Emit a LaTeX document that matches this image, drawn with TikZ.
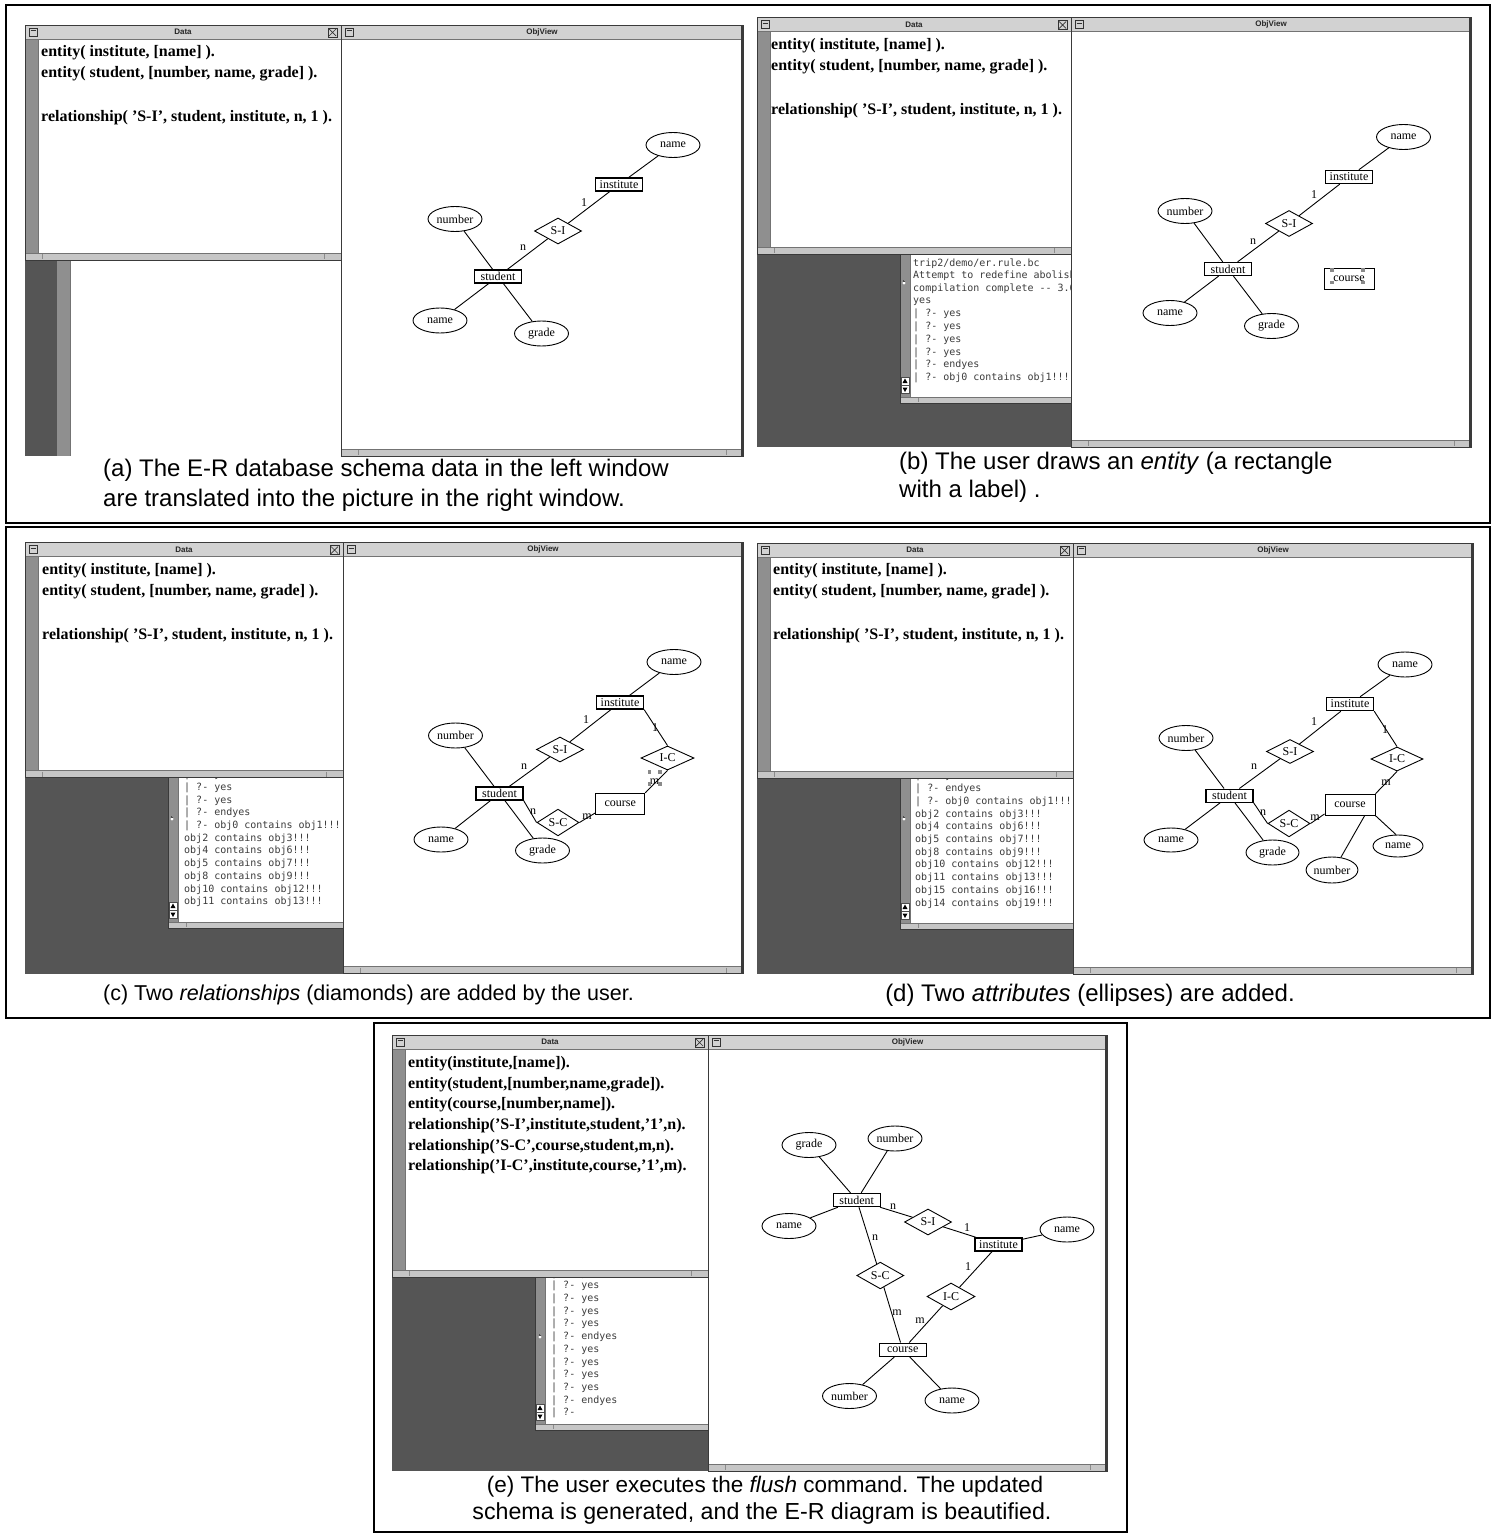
\documentclass[tikz,border=0pt]{standalone}
\usepackage{fontspec}
\setmainfont{Liberation Serif}
\newfontfamily\capfamily{Liberation Sans}
\newfontfamily\monofamily{DejaVu Sans Mono}
\usetikzlibrary{shapes.geometric}
\definecolor{darkbg}{HTML}{555555}
\definecolor{stripfill}{HTML}{8F8F8F}
\definecolor{barfill}{HTML}{D2D2D2}
\definecolor{scrollfill}{HTML}{C6C6C6}
\definecolor{framecol}{HTML}{3A3A3A}
\definecolor{contextcol}{HTML}{3C3C3C}
\definecolor{handlecol}{HTML}{8A8A8A}
\newcommand\erfnt{\fontsize{12}{14}\selectfont}
\newcommand\datafnt{\bfseries\fontsize{16}{19}\selectfont}
\newcommand\confnt{\monofamily\fontsize{10}{12}\selectfont}
\newcommand\capfnt{\capfamily\fontsize{21}{25}\selectfont}
\newcommand\barfnt{\capfamily\bfseries\fontsize{8}{9}\selectfont}

% title bar of a window: name, x1, x2, top, title
\newcommand\TitleBar[5]{%
  \fill[barfill] (#2,#4) rectangle (#3,#4+14);
  \draw[thinline] (#2,#4+14) -- (#3,#4+14);
  \node[bartext] (#1) at ({(#2+#3)/2},#4+7) {#5};
  \draw[iconline] (#2+4,#4+3) rectangle (#2+12,#4+11);
  \draw[iconline] (#2+5.5,#4+5.5) -- (#2+10.5,#4+5.5);
}
% horizontal scroll bar at the foot of a window: x1, x2, bottom
\newcommand\ScrollBar[3]{%
  \fill[scrollfill] (#1,#3-7) rectangle (#2,#3);
  \draw[thinline] (#1,#3-7) -- (#2,#3-7);
  \draw[notch] (#1+17,#3-6) -- (#1+17,#3-1) (#2-17,#3-6) -- (#2-17,#3-1);
}
% text window: name, x1, x2, top, bottom
\newcommand\DataWin[5]{%
  \fill[white] (#2,#4+14) rectangle (#3,#5-7);
  \fill[stripfill] (#2+1,#4+14) rectangle (#2+13,#5-7);
  \draw[thinline] (#2+13,#4+14) -- (#2+13,#5-7);
  \ScrollBar{#2}{#3}{#5}
  \TitleBar{#1}{#2}{#3}{#4}{Data}
  \draw[iconline] (#3-13,#4+3) rectangle (#3-4,#4+12);
  \draw[iconline] (#3-12,#4+4) -- (#3-5,#4+11) (#3-12,#4+11) -- (#3-5,#4+4);
  \draw[winframe] (#2,#4) rectangle (#3,#5);
}
% drawing window: name, x1, x2, top, bottom
\newcommand\ObjWin[5]{%
  \fill[white] (#2,#4+14) rectangle (#3,#5-7);
  \ScrollBar{#2}{#3}{#5}
  \TitleBar{#1}{#2}{#3}{#4}{ObjView}
  \draw[winframe] (#2,#4) rectangle (#3,#5);
  \draw[line width=1.5pt, framecol] (#3-1,#4) -- (#3-1,#5);
}
% console window: x1, x2, top, bottom
\newcommand\ConWin[4]{%
  \fill[white] (#1,#3) rectangle (#2,#4-6);
  \fill[stripfill] (#1,#3) rectangle (#1+10,#4-6);
  \draw[thinline] (#1+10,#3) -- (#1+10,#4-6);
  \fill[scrollfill] (#1,#4-6) rectangle (#2,#4);
  \draw[thinline] (#1,#4-6) -- (#2,#4-6);
  \draw[notch] (#1+18,#4-5) -- (#1+18,#4-1);
  \draw[btn] (#1+1,#4-26) rectangle (#1+9,#4-18);
  \draw[btn] (#1+1,#4-17.5) rectangle (#1+9,#4-9.5);
  \fill (#1+5,#4-24.5) -- (#1+2.5,#4-20) -- (#1+7.5,#4-20) -- cycle;
  \fill (#1+5,#4-11) -- (#1+2.5,#4-15.5) -- (#1+7.5,#4-15.5) -- cycle;
  \draw[winframe] (#1,#3) rectangle (#2,#4);
}
% small pointer mark in a console strip: x, y
\newcommand\PtrMark[2]{%
  \fill[white] (#1,#2) circle (1.6);
  \draw[line width=0.7pt, black!70] (#1+1.2,#2-1.2) arc (45:225:1.6);
}

\begin{document}
\begin{tikzpicture}[x=1pt,y=-1pt,
  thinline/.style={line width=0.6pt, black!55},
  notch/.style={line width=0.6pt, black!45},
  iconline/.style={line width=0.7pt, black!80},
  winframe/.style={draw=framecol, line width=0.8pt},
  btn/.style={fill=white, draw=black!70, line width=0.5pt},
  bartext/.style={inner sep=0pt, font=\barfnt, text=black!85},
  attr/.style={draw, ellipse, line width=0.9pt, minimum width=54pt, minimum height=25pt, inner sep=0pt, font=\erfnt},
  ent/.style={draw, rectangle, line width=1.4pt, minimum width=47pt, minimum height=13pt, inner sep=0pt, font=\erfnt},
  entbig/.style={draw, rectangle, line width=1pt, minimum width=49pt, minimum height=21pt, inner sep=0pt, font=\erfnt},
  rel/.style={draw, diamond, line width=0.9pt, minimum width=47pt, minimum height=26pt, inner sep=0pt, font=\erfnt},
  card/.style={inner sep=0pt, font=\erfnt},
  link/.style={line width=0.9pt},
  datatext/.style={anchor=west, inner sep=0pt, font=\datafnt},
  context/.style={anchor=west, inner sep=0pt, font=\confnt, text=contextcol},
  captext/.style={inner sep=0pt, font=\capfnt},
  handle/.style={fill=handlecol, minimum size=3.5pt, inner sep=0pt},
  outer/.style={draw=black, line width=2pt}
]
\useasboundingbox (0,0) rectangle (1497,1536);
\fill[white] (0,0) rectangle (1497,1536);

% ---------------- frames
\draw[outer] (6,5) rectangle (1490,523);
\draw[outer] (6,527) rectangle (1490,1018);
\draw[outer] (374,1023) rectangle (1127,1532);

% ---------------- panel (a)
\fill[darkbg] (25,25) rectangle (743,456);
\fill[white] (70,260) rectangle (341,456);
\fill[stripfill] (57,260) rectangle (70,456);
\draw[thinline] (70,260) -- (70,456);
\DataWin{a-data}{25}{341}{25}{260}
\ObjWin{a-view}{341}{743}{25}{456}
\node[datatext] (a-l1) at (41,53) {entity( institute, [name] ).};
\node[datatext] (a-l2) at (41,74) {entity( student, [number, name, grade] ).};
\node[datatext] (a-l3) at (41,118) {relationship( ’S-I’, student, institute, n, 1 ).};

\node[attr] (a-iname) at (673,145) {name};
\node[ent] (a-inst) at (619,184.5) {institute};
\node[rel] (a-si) at (558,231) {S-I};
\node[attr] (a-snum) at (455,219) {number};
\node[ent] (a-stu) at (498,276.5) {student};
\node[attr] (a-sname) at (440,320.5) {name};
\node[attr] (a-sgrade) at (541.5,333.5) {grade};
\node[card] (a-k1) at (584,203) {1};
\node[card] (a-k2) at (523,248) {n};
\draw[link] (a-inst) -- (a-iname);
\draw[link] (a-si) -- (a-inst);
\draw[link] (a-stu) -- (a-si);
\draw[link] (a-stu) -- (a-snum);
\draw[link] (a-stu) -- (a-sname);
\draw[link] (a-stu) -- (a-sgrade);

\node[captext, anchor=west, font=\capfamily\fontsize{24}{28}\selectfont] (a-cap1) at (103,470) {(a) The E-R database schema data in the left window};
\node[captext, anchor=west, font=\capfamily\fontsize{24}{28}\selectfont] (a-cap2) at (103,500) {are translated into the picture in the right window.};

% ---------------- panel (b)
\fill[darkbg] (757,17.5) rectangle (1471,447);
\DataWin{b-data}{757}{1071}{17.5}{254}
\ConWin{900}{1071}{254}{403}
\PtrMark{904}{283}
\begin{scope}
  \clip (911,254) rectangle (1071,397);
  \foreach \cl [count=\k from 0] in {trip2/demo/er.rule.bc, Attempt to redefine abolish, compilation complete -{}- 3.6, yes, | ?- yes, | ?- yes, | ?- yes, | ?- yes, | ?- endyes, | ?- obj0 contains obj1!!!}
    \node[context] (b-q\k) at (913,263.5+12.7*\k) {\cl};
\end{scope}
\ObjWin{b-view}{1071}{1471}{17.5}{447}
\node[datatext] (b-l1) at (771,45.5) {entity( institute, [name] ).};
\node[datatext] (b-l2) at (771,66.5) {entity( student, [number, name, grade] ).};
\node[datatext] (b-l3) at (771,110.5) {relationship( ’S-I’, student, institute, n, 1 ).};

\node[attr] (b-iname) at (1403.5,137) {name};
\node[ent] (b-inst) at (1349,177) {institute};
\node[rel] (b-si) at (1289,223.5) {S-I};
\node[attr] (b-snum) at (1185,211) {number};
\node[ent] (b-stu) at (1228,269) {student};
\node[attr] (b-sname) at (1170,313) {name};
\node[attr] (b-sgrade) at (1271.5,326) {grade};
\node[entbig, minimum width=50pt] (b-course) at (1349,278.5) {course};
\node[card] (b-k1) at (1314,195) {1};
\node[card] (b-k2) at (1253,242) {n};
\draw[link] (b-inst) -- (b-iname);
\draw[link] (b-si) -- (b-inst);
\draw[link] (b-stu) -- (b-si);
\draw[link] (b-stu) -- (b-snum);
\draw[link] (b-stu) -- (b-sname);
\draw[link] (b-stu) -- (b-sgrade);
\node[handle] (b-h1) at (1332,270) {};
\node[handle] (b-h2) at (1363,270) {};
\node[handle] (b-h3) at (1332,282.5) {};
\node[handle] (b-h4) at (1363,282.5) {};

\node[captext, anchor=west, font=\capfamily\fontsize{24}{28}\selectfont] (b-cap1) at (899,463) {(b) The user draws an \textit{entity} (a rectangle};
\node[captext, anchor=west, font=\capfamily\fontsize{24}{28}\selectfont] (b-cap2) at (899,491) {with a label) .};

% ---------------- panel (c)
\fill[darkbg] (25,542.5) rectangle (743,973.5);
\DataWin{c-data}{25}{343}{542.5}{777.5}
\ConWin{168}{343}{777.5}{928}
\PtrMark{172}{819}
\begin{scope}
  \clip (179,777.5) rectangle (343,922);
  \foreach \cl [count=\k from 0] in {| ?- yes, | ?- yes, | ?- yes, | ?- endyes, | ?- obj0 contains obj1!!!, obj2 contains obj3!!!, obj4 contains obj6!!!, obj5 contains obj7!!!, obj8 contains obj9!!!, obj10 contains obj12!!!, obj11 contains obj13!!!}
    \node[context] (c-q\k) at (184,775+12.7*\k) {\cl};
\end{scope}
\ObjWin{c-view}{343}{743}{542.5}{973.5}
\node[datatext] (c-l1) at (42,570.5) {entity( institute, [name] ).};
\node[datatext] (c-l2) at (42,591.5) {entity( student, [number, name, grade] ).};
\node[datatext] (c-l3) at (42,635.5) {relationship( ’S-I’, student, institute, n, 1 ).};

\node[attr] (c-iname) at (674,662) {name};
\node[ent] (c-inst) at (620,702.5) {institute};
\node[rel, minimum height=25pt] (c-si) at (560,749.5) {S-I};
\node[rel, minimum width=53pt, minimum height=24pt] (c-ic) at (667.5,758) {I-C};
\node[attr] (c-snum) at (455.5,735.5) {number};
\node[ent] (c-stu) at (499.5,793.5) {student};
\node[entbig] (c-course) at (620.3,803.8) {course};
\node[rel, minimum width=42pt, minimum height=22pt] (c-sc) at (558,822.5) {S-C};
\node[attr] (c-sname) at (441,839.5) {name};
\node[attr] (c-sgrade) at (542.5,850.5) {grade};
\node[card] (c-k1) at (586,720) {1};
\node[card] (c-k2) at (655,728) {1};
\node[card] (c-k3) at (524,767) {n};
\node[card] (c-k4) at (533,812) {n};
\node[card] (c-k5) at (587,817) {m};
\node[card] (c-k6) at (654.5,781.5) {m};
\draw[link] (c-inst) -- (c-iname);
\draw[link] (c-si) -- (c-inst);
\draw[link] (c-stu) -- (c-si);
\draw[link] (c-stu) -- (c-snum);
\draw[link] (c-stu) -- (c-sname);
\draw[link] (c-stu) -- (c-sgrade);
\draw[link] (c-inst.south east) -- (c-ic.north);
\draw[link] (c-ic.south) -- (c-course.north east);
\draw[link] (c-stu.south east) -- (c-sc.west);
\draw[link] (c-sc.east) -- (c-course.200);
\node[handle] (c-h1) at (649.5,772) {};
\node[handle] (c-h2) at (660,772) {};
\node[handle] (c-h3) at (649.5,784) {};
\node[handle] (c-h4) at (660,784) {};

\node[captext, anchor=west, font=\capfamily\fontsize{21.5}{26}\selectfont] (c-cap) at (103,995) {(c) Two \textit{relationships} (diamonds) are added by the user.};

% ---------------- panel (d)
\fill[darkbg] (757,543) rectangle (1473,974);
\DataWin{d-data}{757}{1073}{543}{778}
\ConWin{900}{1073}{778}{929}
\PtrMark{904}{819}
\begin{scope}
  \clip (911,778) rectangle (1073,923);
  \foreach \cl [count=\k from 0] in {| ?- yes, | ?- endyes, | ?- obj0 contains obj1!!!, obj2 contains obj3!!!, obj4 contains obj6!!!, obj5 contains obj7!!!, obj8 contains obj9!!!, obj10 contains obj12!!!, obj11 contains obj13!!!, obj15 contains obj16!!!, obj14 contains obj19!!!}
    \node[context] (d-q\k) at (915,776.3+12.7*\k) {\cl};
\end{scope}
\ObjWin{d-view}{1073}{1473}{543}{974}
\node[datatext] (d-l1) at (773,571) {entity( institute, [name] ).};
\node[datatext] (d-l2) at (773,592) {entity( student, [number, name, grade] ).};
\node[datatext] (d-l3) at (773,636) {relationship( ’S-I’, student, institute, n, 1 ).};

\node[attr] (d-iname) at (1405,664.5) {name};
\node[ent] (d-inst) at (1350,704) {institute};
\node[rel, minimum height=24pt] (d-si) at (1290,751.5) {S-I};
\node[rel, minimum width=52pt, minimum height=24pt] (d-ic) at (1397,759) {I-C};
\node[attr] (d-snum) at (1186,738) {number};
\node[ent] (d-stu) at (1229.5,795.7) {student};
\node[entbig, minimum width=50pt] (d-course) at (1350,804.7) {course};
\node[rel, minimum width=42pt, minimum height=21pt] (d-sc) at (1289,823.5) {S-C};
\node[attr, minimum height=24pt] (d-sname) at (1171,840) {name};
\node[attr, minimum width=53pt] (d-sgrade) at (1272.5,852.5) {grade};
\node[attr, minimum width=50pt, minimum height=26pt] (d-cnum) at (1332,870) {number};
\node[attr, minimum width=50pt, minimum height=22pt] (d-cname) at (1398,846) {name};
\node[card] (d-k1) at (1314,722) {1};
\node[card] (d-k2) at (1385,730) {1};
\node[card] (d-k3) at (1254,767) {n};
\node[card] (d-k4) at (1263,813) {n};
\node[card] (d-k5) at (1315,818) {m};
\node[card] (d-k6) at (1386,783) {m};
\draw[link] (d-inst) -- (d-iname);
\draw[link] (d-si) -- (d-inst);
\draw[link] (d-stu) -- (d-si);
\draw[link] (d-stu) -- (d-snum);
\draw[link] (d-stu) -- (d-sname);
\draw[link] (d-stu) -- (d-sgrade);
\draw[link] (d-inst.south east) -- (d-ic.north);
\draw[link] (d-ic.south) -- (d-course.north east);
\draw[link] (d-stu.south east) -- (d-sc.west);
\draw[link] (d-sc.east) -- (d-course.200);
\draw[link] (d-course.-37) -- (d-cnum.55);
\draw[link] (d-course.south east) -- (d-cname.100);

\node[captext, font=\capfamily\fontsize{24}{28}\selectfont] (d-cap) at (1090,995) {(d) Two \textit{attributes} (ellipses) are added.};

% ---------------- panel (e)
\fill[darkbg] (392,1035) rectangle (1107,1471);
\DataWin{e-data}{392}{708}{1035}{1277}
\ConWin{535}{708}{1277}{1430}
\PtrMark{540}{1337}
\begin{scope}
  \clip (546,1277) rectangle (708,1424);
  \foreach \cl [count=\k from 0] in {| ?- yes, | ?- yes, | ?- yes, | ?- yes, | ?- yes, | ?- endyes, | ?- yes, | ?- yes, | ?- yes, | ?- yes, | ?- endyes, | ?-}
    \node[context] (e-q\k) at (551,1273.5+12.7*\k) {\cl};
\end{scope}
\ObjWin{e-view}{708}{1107}{1035}{1471}
\node[datatext] (e-l1) at (408,1063.3) {entity(institute,[name]).};
\node[datatext] (e-l2) at (408,1084.3) {entity(student,[number,name,grade]).};
\node[datatext] (e-l3) at (408,1104.7) {entity(course,[number,name]).};
\node[datatext] (e-l4) at (408,1126) {relationship(’S-I’,institute,student,’1’,n).};
\node[datatext] (e-l5) at (408,1146.7) {relationship(’S-C’,course,student,m,n).};
\node[datatext] (e-l6) at (408,1166.7) {relationship(’I-C’,institute,course,’1’,m).};

\node[attr] (e-sgrade) at (809,1145) {grade};
\node[attr] (e-snum) at (895,1138.5) {number};
\node[ent] (e-stu) at (856.7,1200) {student};
\node[attr] (e-sname) at (789,1226) {name};
\node[rel] (e-si) at (928,1222) {S-I};
\node[ent] (e-inst) at (998.5,1244.5) {institute};
\node[attr] (e-iname) at (1067,1229.5) {name};
\node[rel, minimum height=25pt] (e-sc) at (880.3,1275.5) {S-C};
\node[rel, minimum width=48pt, minimum height=27pt] (e-ic) at (951,1296.5) {I-C};
\node[ent] (e-course) at (902.7,1349.7) {course};
\node[attr] (e-cnum) at (849.5,1396) {number};
\node[attr] (e-cname) at (952,1400.5) {name};
\node[card] (e-k1) at (893,1207) {n};
\node[card] (e-k2) at (967,1228) {1};
\node[card] (e-k3) at (875,1238) {n};
\node[card] (e-k4) at (968,1267) {1};
\node[card] (e-k5) at (897,1313) {m};
\node[card] (e-k6) at (920,1321) {m};
\draw[link] (e-stu) -- (e-sgrade);
\draw[link] (e-stu) -- (e-snum);
\draw[link] (e-stu) -- (e-sname);
\draw[link] (e-stu) -- (e-si);
\draw[link] (e-si) -- (e-inst);
\draw[link] (e-inst) -- (e-iname);
\draw[link] (e-stu) -- (e-sc);
\draw[link] (e-sc) -- (e-course);
\draw[link] (e-inst) -- (e-ic);
\draw[link] (e-ic) -- (e-course);
\draw[link] (e-course) -- (e-cnum);
\draw[link] (e-course) -- (e-cname);

\node[captext, font=\capfamily\fontsize{22.5}{27}\selectfont] (e-cap1) at (765,1487) {(e) The user executes the \textit{flush} command. The updated};
\node[captext, font=\capfamily\fontsize{23.2}{27}\selectfont] (e-cap2) at (762,1513) {schema is generated, and the E-R diagram is beautified.};
\end{tikzpicture}
\end{document}
